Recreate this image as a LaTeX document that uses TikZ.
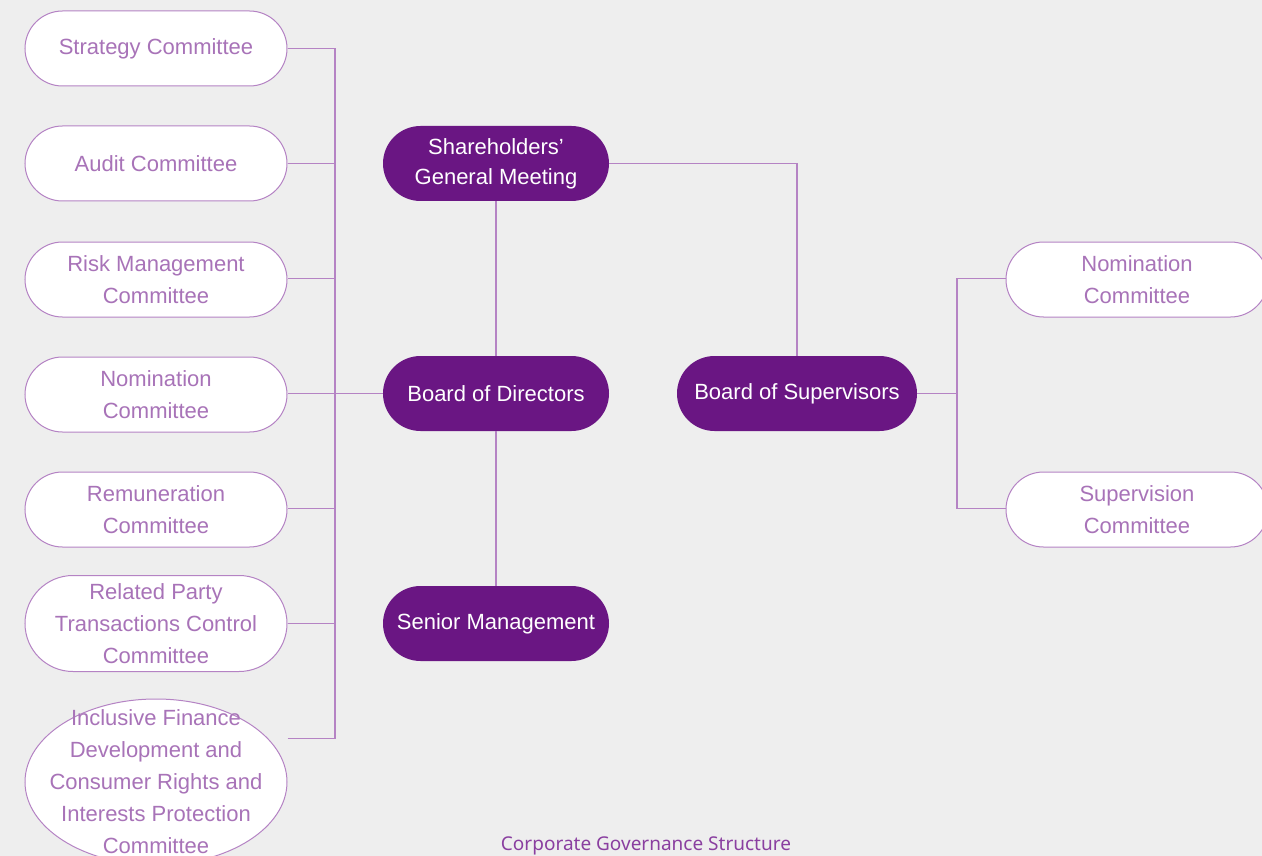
\documentclass[tikz,border=0pt]{standalone}
\usepackage{fontspec}
\setmainfont{Liberation Sans}
\newfontfamily\capfont{Noto Sans}
\usetikzlibrary{shapes.geometric}
\definecolor{bgcol}{HTML}{EEEEEE}
\definecolor{deeppurple}{HTML}{6A1683}
\definecolor{linepurple}{HTML}{B583C4}
\definecolor{textpurple}{HTML}{A873B8}
\definecolor{cappurple}{HTML}{8A3FA0}
\tikzset{
  core/.style={draw=none, fill=deeppurple, text=white, rounded corners=37.5pt,
    minimum width=226pt, minimum height=75pt, align=center, inner sep=0pt,
    font=\fontsize{22}{30}\selectfont},
  committee/.style={draw=linepurple, line width=1pt, fill=white, text=textpurple,
    rounded corners=37.5pt, minimum width=262pt, minimum height=75pt,
    align=center, inner sep=0pt, font=\fontsize{22}{32}\selectfont},
  plaintext/.style={text=textpurple, align=center, inner sep=0pt,
    font=\fontsize{22}{32}\selectfont},
  link/.style={draw=linepurple, line width=1.2pt}
}
\begin{document}
\begin{tikzpicture}[x=1pt,y=-1pt]
  \fill[bgcol] (0,0) rectangle (1262,856);
  \useasboundingbox (0,0) rectangle (1262,856);

  % central bodies
  \node[core] (sgm) at (496,163.5) {Shareholders'\\General Meeting};
  \node[core] (bod) at (496,393.5) {Board of Directors};
  \node[core] (sm)  at (496,623.5) {Senior Management};
  \node[core, minimum width=240pt] (bos) at (797,393.5) {Board of Supervisors};

  % committees of the board of directors
  \node[committee] (c1) at (156,48.5)  {Strategy Committee};
  \node[committee] (c2) at (156,163.5) {Audit Committee};
  \node[committee] (c3) at (156,279.5) {Risk Management\\Committee};
  \node[committee] (c4) at (156,394.5) {Nomination\\Committee};
  \node[committee] (c5) at (156,509.5) {Remuneration\\Committee};
  \node[committee, minimum height=96pt, rounded corners=48pt] (c6) at (156,623.5)
    {Related Party\\Transactions Control\\Committee};
  \node[committee, shape=ellipse, rounded corners=0pt, minimum height=166pt] (c7) at (156,782) {};
  \node[plaintext] (c7t) at (c7.center) 
    {Inclusive Finance\\Development and\\Consumer Rights and\\Interests Protection\\Committee};

  % committees of the board of supervisors
  \node[committee] (s1) at (1137,279.5) {Nomination\\Committee};
  \node[committee] (s2) at (1137,509.5) {Supervision\\Committee};

  % bus lines
  \coordinate (lb1) at (335,48.5);
  \coordinate (lb2) at (335,163.5);
  \coordinate (lb3) at (335,278.5);
  \coordinate (lb4) at (335,393.5);
  \coordinate (lb5) at (335,508.5);
  \coordinate (lb6) at (335,623.5);
  \coordinate (lb7) at (335,738.5);
  \coordinate (rb) at (957,393.5);

  \draw[link] (lb1) -- (lb7);
  \foreach \i in {1,...,6} { \draw[link] (c\i.east |- lb\i) -- (lb\i); }
  \draw[link] (c7.east |- lb7) -- (lb7);
  \draw[link] (lb4) -- (bod.west);

  \draw[link] (sgm.south) -- (bod.north);
  \draw[link] (bod.south) -- (sm.north);
  \draw[link] (sgm.east) -| (bos.north);

  \draw[link] (bos.east) -- (rb);
  \draw[link] (s1.west |- lb3) -| (rb) |- (s2.west |- lb5);

  \node[text=cappurple, font=\capfont\fontsize{19}{22}\selectfont] (cap) at (646,846)
    {Corporate Governance Structure};
\end{tikzpicture}
\end{document}
